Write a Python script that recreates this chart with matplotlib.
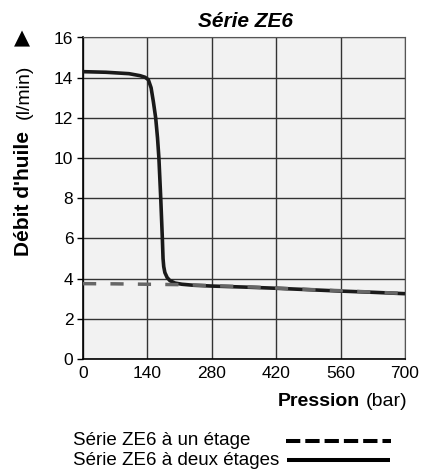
import matplotlib
matplotlib.use('Agg')
import matplotlib.pyplot as plt
from matplotlib.lines import Line2D

plt.rcParams['font.family'] = ['Liberation Sans', 'DejaVu Sans']

# data
pression_deux = [0, 50, 100, 124, 135, 142, 148, 153, 158, 162, 165, 169,
                 172.5, 174, 175.5, 178, 183, 189, 200, 215, 240, 280,
                 350, 420, 490, 560, 630, 700]
debit_deux = [14.3, 14.27, 14.2, 14.1, 14.02, 13.9, 13.5, 12.8, 12.0,
              11.0, 10.0, 8.0, 6.0, 5.0, 4.6, 4.3, 4.05, 3.9, 3.78, 3.72,
              3.67, 3.63, 3.58, 3.52, 3.45, 3.38, 3.32, 3.25]
pression_un = [0, 70, 140, 210, 280, 350, 420, 490, 560, 630, 700]
debit_un = [3.75, 3.74, 3.72, 3.7, 3.65, 3.6, 3.53, 3.46, 3.4, 3.33, 3.26]
x_ticks = [0, 140, 280, 420, 560, 700]
y_ticks = [0, 2, 4, 6, 8, 10, 12, 14, 16]
legend_labels = ['Série ZE6 à un étage', 'Série ZE6 à deux étages']

W, H = 422, 473
fig = plt.figure(figsize=(W / 100, H / 100), dpi=100)
ax = fig.add_axes([83 / W, 1 - 359 / H, (405 - 83) / W, (359 - 37.5) / H])
ax.set_facecolor('#f2f2f2')

ax.plot(pression_deux, debit_deux, color='#1a1a1a', lw=2.6,
        solid_capstyle='butt', zorder=3)
ax.plot(pression_un, debit_un, color='#666666', lw=2.5,
        dashes=(3.8, 4.1), dash_capstyle='butt', zorder=4)

ax.set_xlim(0, 700)
ax.set_ylim(0, 16)
ax.set_xticks(x_ticks)
ax.set_yticks(y_ticks)
ax.grid(True, color='#333333', lw=1)
ax.set_axisbelow(True)
for s in ['top', 'right']:
    ax.spines[s].set_color('#555555')
for s in ['left', 'bottom']:
    ax.spines[s].set_color('black')
    ax.spines[s].set_linewidth(1.2)
ax.tick_params(axis='y', length=4, width=1, labelsize=12.5, pad=3)
ax.tick_params(axis='x', length=0, labelsize=12.5, pad=5)

fig.text(246 / W, 1 - 21 / H, 'Série ZE6', ha='center', va='center',
         fontsize=15, fontweight='bold', fontstyle='italic')

# y label: bold part + unit, plus the arrow head
fig.text(24 / W, 1 - 256 / H, "Débit d'huile", rotation=90, ha='center',
         va='bottom', fontsize=15, fontweight='bold')
fig.text(24 / W, 1 - 119 / H, '(l/min)', rotation=90, ha='center',
         va='bottom', fontsize=14)
fig.text(22 / W, 1 - 38.5 / H, '▲', ha='center', va='center', fontsize=15,
         family='DejaVu Sans')

# x label: unit right-aligned, bold word placed just left of it
unit = fig.text(407 / W, 1 - 402 / H, '(bar)', ha='right', va='center',
                fontsize=14)
fig.canvas.draw()
bb = unit.get_window_extent()
fig.text((bb.x0 - 5) / W, 1 - 402 / H, 'Pression', ha='right', va='center',
         fontsize=14, fontweight='bold')

# legend drawn by hand below the chart
fig.text(73 / W, 1 - 440 / H, legend_labels[0], ha='left', va='center',
         fontsize=13.5)
fig.text(73 / W, 1 - 460 / H, legend_labels[1], ha='left', va='center',
         fontsize=13.5)
fig.add_artist(Line2D([285.7 / W, 390.7 / W], [1 - 441 / H, 1 - 441 / H],
                      color='black', lw=2.9, dashes=(3.55, 1.24),
                      dash_capstyle='butt'))
fig.add_artist(Line2D([286.7 / W, 390 / W], [1 - 460 / H, 1 - 460 / H],
                      color='black', lw=2.9, solid_capstyle='butt'))

fig.savefig('out.png', dpi=100)
